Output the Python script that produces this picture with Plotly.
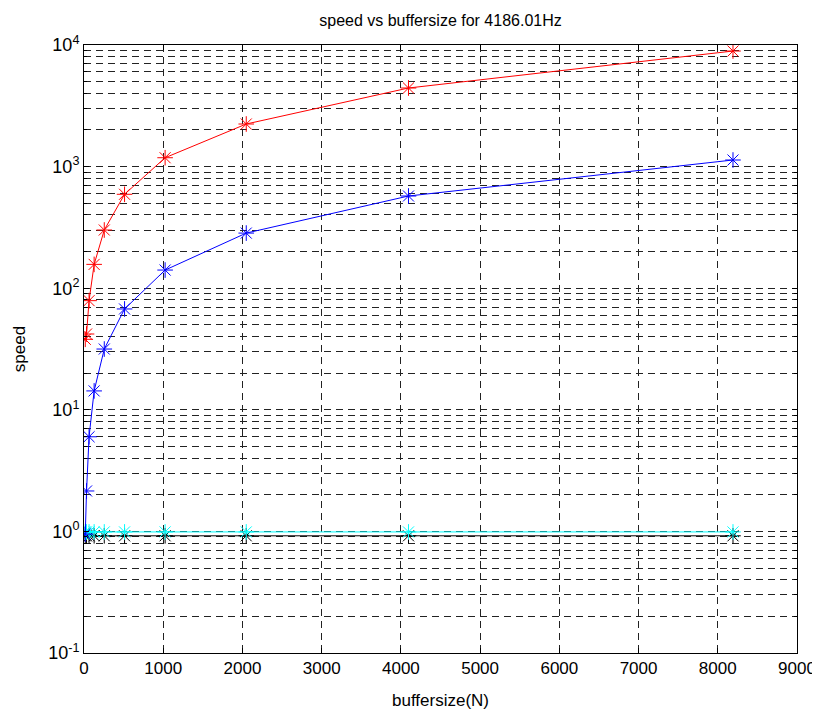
import plotly.graph_objects as go

buffersize = [16, 32, 64, 128, 256, 512, 1024, 2048, 4096, 8192]
speed_red = [38, 42, 79, 157, 301, 592, 1183, 2240, 4430, 8920]
speed_blue = [0.95, 2.15, 6.0, 14.3, 31.6, 67.5, 141, 284, 573, 1133]
speed_cyan = [0.99] * 10
speed_black = [0.92] * 10

x_ticks = [0, 1000, 2000, 3000, 4000, 5000, 6000, 7000, 8000, 9000]
y_tickvals = [0.1, 1, 10, 100, 1000, 10000]
y_ticktext = ["10<sup>-1</sup>", "10<sup>0</sup>", "10<sup>1</sup>", "10<sup>2</sup>", "10<sup>3</sup>", "10<sup>4</sup>"]

fig = go.Figure()
for ys, col in [(speed_black, "black"), (speed_cyan, "#00ffff"), (speed_blue, "blue"), (speed_red, "red")]:
    fig.add_trace(go.Scatter(
        x=buffersize, y=ys, mode="lines+markers",
        line=dict(color=col, width=1),
        marker=dict(symbol="asterisk-open", size=13, color=col, line=dict(color=col, width=1)),
        showlegend=False,
    ))

font = dict(family="Liberation Sans, Arial, sans-serif", size=17, color="black")
dash = "7px,5px"

fig.update_layout(
    width=812, height=713,
    margin=dict(l=76, r=23, t=37, b=68),
    paper_bgcolor="white", plot_bgcolor="white",
    font=font,
    title=dict(text="speed vs buffersize for 4186.01Hz", x=(84 + 797) / 2 / 812 - 8 / 812, xanchor="center",
               y=1 - 12 / 713, yanchor="middle", font=dict(size=16)),
)
fig.update_xaxes(
    range=[0, 9000], tickvals=x_ticks, ticktext=[str(v) for v in x_ticks],
    tickfont=dict(size=17), automargin=False,
    showgrid=True, gridcolor="#222", griddash=dash, gridwidth=1,
    showline=True, linecolor="black", linewidth=1, mirror="ticks",
    ticks="inside", ticklen=5, tickcolor="black", zeroline=False,
    title=dict(text="buffersize(N)", standoff=16, font=dict(size=17)),
)
fig.update_yaxes(
    type="log", range=[-1, 4], tickvals=y_tickvals, ticktext=y_ticktext,
    tickfont=dict(size=18), automargin=False,
    showgrid=True, gridcolor="#222", griddash=dash, gridwidth=1,
    showline=True, linecolor="black", linewidth=1, mirror="ticks",
    ticks="inside", ticklen=5, tickcolor="black", zeroline=False,
    minor=dict(showgrid=True, gridcolor="#222", griddash=dash, gridwidth=1,
               ticks="inside", ticklen=3, tickcolor="black", dtick="D1"),
    title=dict(text="speed", standoff=18, font=dict(size=17)),
)
fig.write_html("out.html")
